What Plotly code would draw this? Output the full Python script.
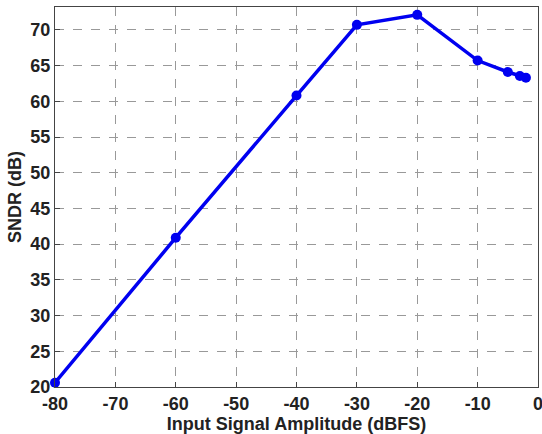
import plotly.graph_objects as go

x_vals = [-80, -60, -40, -30, -20, -10, -5, -3, -2]
sndr = [20.6, 40.9, 60.8, 70.7, 72.1, 65.7, 64.1, 63.55, 63.3]
x_ticks = [-80, -70, -60, -50, -40, -30, -20, -10, 0]
y_ticks = [20, 25, 30, 35, 40, 45, 50, 55, 60, 65, 70]

fig = go.Figure()
fig.add_trace(go.Scatter(
    x=x_vals, y=sndr, mode="lines+markers",
    line=dict(color="#0000f0", width=3.5),
    marker=dict(color="#0000f0", size=10),
    cliponaxis=False,
))

tick_font = dict(family="Liberation Sans", size=18, color="#222222", weight="bold")
title_font = dict(family="Liberation Sans", size=18, color="#222222")
axis_common = dict(
    showline=True, linecolor="#444444", linewidth=1, mirror=True,
    showgrid=True, gridcolor="#999999", griddash="dash", gridwidth=1,
    ticks="inside", ticklen=5, tickcolor="#444444",
    zeroline=False, tickfont=tick_font, automargin=False,
    ticklabeloverflow="allow",
)
fig.update_layout(
    width=542, height=434,
    margin=dict(l=55, r=4, t=7, b=47),
    paper_bgcolor="white", plot_bgcolor="white",
    showlegend=False,
    xaxis=dict(range=[-80, 0], tickvals=x_ticks, ticktext=[str(v) for v in x_ticks],
               title=dict(text="<b>Input Signal Amplitude (dBFS)</b>", font=title_font, standoff=0),
               **axis_common),
    yaxis=dict(range=[20, 73.2], tickvals=y_ticks, ticktext=[str(v) for v in y_ticks],
               title=dict(text="<b>SNDR (dB)</b>", font=title_font, standoff=4),
               **axis_common),
)
fig.write_html("out.html",
               config={"displayModeBar": False},
               post_script="document.body.style.margin='0';document.body.style.overflow='hidden';")
